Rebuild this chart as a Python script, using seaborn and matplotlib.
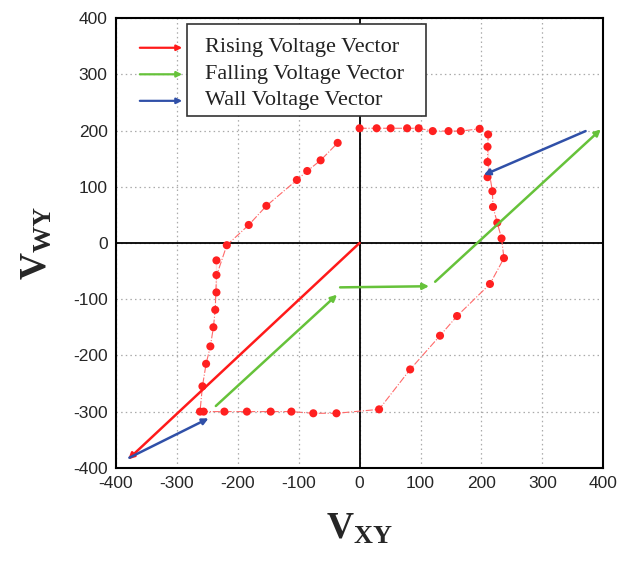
import numpy as np
import pandas as pd
import matplotlib
matplotlib.use('Agg')
import matplotlib.pyplot as plt
from matplotlib.patches import Rectangle
import seaborn as sns

# loop points (V_XY, V_WY)
vxy = [0, 28, 51, 78, 97, 120, 146, 166, 197, 211, 210, 210, 210, 218, 219, 226, 233, 237,
       214, 160, 132, 83, 32, -38, -76, -112, -146, -185, -222, -256, -262,
       -258, -252, -245, -240, -237, -235, -235, -235, -218, -182, -153, -103, -86, -64, -36]
vwy = [204, 204, 204, 204, 204, 199, 199, 199, 203, 193, 171, 144, 117, 92, 64, 36, 8, -27,
       -73, -130, -165, -225, -296, -303, -303, -300, -300, -300, -300, -300, -300,
       -255, -215, -184, -150, -119, -88, -57, -31, -4, 32, 66, 112, 128, 147, 178]

# vectors: start -> end
vec_kind = ['rising', 'wall', 'falling', 'falling', 'falling', 'wall']
vec_x0 = [0, -378, -236, -32, 124, 371]
vec_y0 = [0, -382, -290, -79, -69, 199]
vec_x1 = [-380, -248, -37, 114, 396, 204]
vec_y1 = [-385, -312, -92, -77, 202, 121]

legend_names = ['Rising Voltage Vector', 'Falling Voltage Vector', 'Wall Voltage Vector']
legend_kinds = ['rising', 'falling', 'wall']
colors = {'rising': '#ff1a1a', 'falling': '#66c23a', 'wall': '#3050a8'}

ticks = [-400, -300, -200, -100, 0, 100, 200, 300, 400]

df = pd.DataFrame({'x': vxy + [vxy[0]], 'y': vwy + [vwy[0]]})

sns.set_style("white")
plt.rcParams['font.family'] = ['Liberation Sans', 'DejaVu Sans']
plt.rcParams['axes.unicode_minus'] = False
plt.rcParams['mathtext.fontset'] = 'custom'
plt.rcParams['mathtext.rm'] = 'Liberation Serif'
plt.rcParams['mathtext.bf'] = 'Liberation Serif:bold'

fig = plt.figure(figsize=(6.2, 5.65), dpi=100)
ax = fig.add_axes([0.187, 0.172, 0.786, 0.796])

ax.grid(True, color='#aaaaaa', linestyle=(0, (1.2, 2.5)), linewidth=0.9)
ax.axhline(0, color='black', lw=1.3, zorder=1)
ax.axvline(0, color='black', lw=1.3, zorder=1)

sns.lineplot(data=df, x='x', y='y', sort=False, ax=ax, color='#ff6a6a',
             linewidth=0.8, linestyle='-.', zorder=2)
sns.scatterplot(data=df.iloc[:-1], x='x', y='y', ax=ax, color='#ff2020', s=34,
                edgecolor='none', zorder=3)

for k, x0, y0, x1, y1 in zip(vec_kind, vec_x0, vec_y0, vec_x1, vec_y1):
    ax.annotate('', xy=(x1, y1), xytext=(x0, y0),
                arrowprops=dict(arrowstyle='-|>', color=colors[k], lw=1.8,
                                mutation_scale=9, shrinkA=0, shrinkB=0), zorder=4)

ax.set_xlim(-400, 400)
ax.set_ylim(-400, 400)
ax.set_xticks(ticks)
ax.set_yticks(ticks)
ax.tick_params(labelsize=12.5, length=0, pad=6)
for s in ax.spines.values():
    s.set_color('black')
    s.set_linewidth(1.5)

ax.set_xlabel(r'$\mathbf{V_{XY}}$', fontsize=27, labelpad=14)
ax.set_ylabel(r'$\mathbf{V_{WY}}$', fontsize=27, labelpad=14)

# legend: box with text, arrows outside on the left
ax.add_patch(Rectangle((0.146, 0.782), 0.491, 0.205, transform=ax.transAxes,
                       facecolor='white', edgecolor='#333333', lw=1.2, zorder=5))
for i, (name, k) in enumerate(zip(legend_names, legend_kinds)):
    ya = 0.934 - i * 0.059
    ax.text(0.183, ya, name, transform=ax.transAxes, va='center', ha='left',
            fontsize=16, family=['Liberation Serif'], color='#222222', zorder=6)
    ax.annotate('', xy=(0.136, ya), xytext=(0.049, ya), xycoords='axes fraction',
                arrowprops=dict(arrowstyle='-|>', color=colors[k], lw=1.6,
                                mutation_scale=8, shrinkA=0, shrinkB=0))

fig.savefig('out.png', dpi=100)
